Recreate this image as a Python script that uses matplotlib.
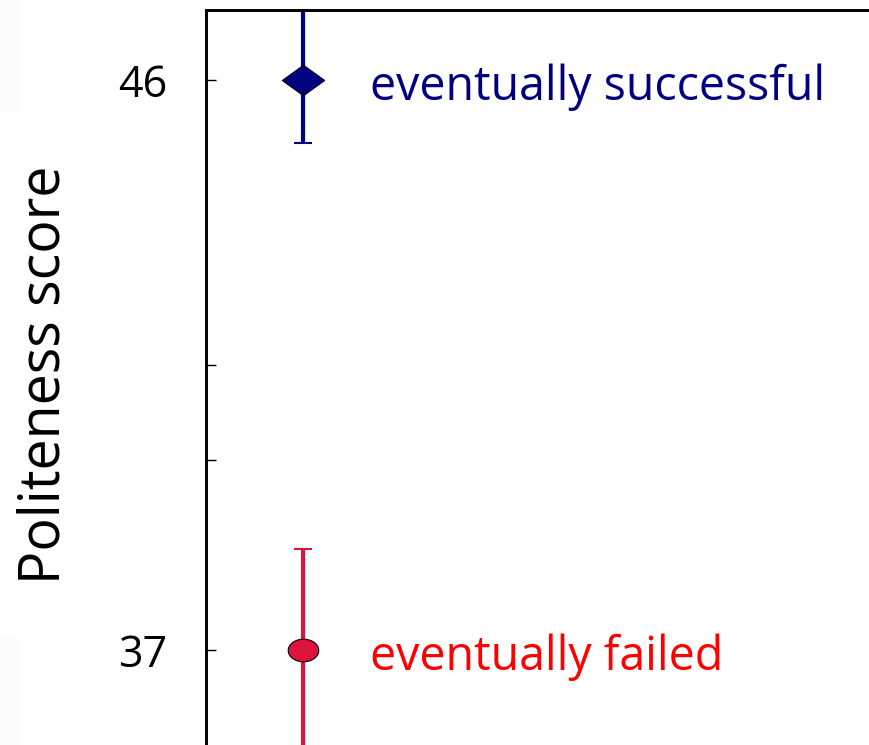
import numpy as np
import matplotlib
matplotlib.use("Agg")
import matplotlib.pyplot as plt
from matplotlib.path import Path
from matplotlib.patches import Rectangle

plt.rcParams['font.family'] = ['Open Sans', 'DejaVu Sans']

# --- data ---
groups = ["eventually successful", "eventually failed"]
x_pos = [1, 1]
means = [46, 37]
err_low = [1.0, 1.8]    # lower end runs off the bottom for the red one
err_high = [1.6, 1.6]   # blue upper end runs off the top
colors = ["#000080", "#DC143C"]
label_colors = ["#000080", "#FF0000"]
ytick_vals = [37, 40, 41.5, 46]
ytick_labels = ["37", "", "", "46"]

# custom marker shapes (wide diamond, flat ellipse)
diamond = Path([[-1, 0], [0, 0.72], [1, 0], [0, -0.72], [-1, 0]],
               [Path.MOVETO, Path.LINETO, Path.LINETO, Path.LINETO, Path.CLOSEPOLY])
t = np.linspace(0, 2 * np.pi, 60)
ellipse = Path(np.column_stack([np.cos(t), 0.74 * np.sin(t)]))
markers = [diamond, ellipse]
msizes = [30.5, 22]

fig = plt.figure(figsize=(8.69, 7.45), dpi=100)

# faint grey strips on the far left of the original image
fig.patches.append(Rectangle((0, 1 - 112 / 745), 19 / 869, 112 / 745,
                             transform=fig.transFigure, color="#fbfbfb", zorder=0))
fig.patches.append(Rectangle((0, 0), 19 / 869, 108 / 745,
                             transform=fig.transFigure, color="#fbfbfb", zorder=0))

ax = fig.add_axes([206 / 869, -5 / 745, 1.02 - 206 / 869, 740 / 745])

for i in range(len(groups)):
    ax.errorbar(x_pos[i], means[i], yerr=[[err_low[i]], [err_high[i]]],
                fmt="none", ecolor=colors[i], elinewidth=3, capsize=6.5,
                capthick=1.5, zorder=2)
    ax.plot(x_pos[i], means[i], marker=markers[i], markersize=msizes[i],
            markerfacecolor=colors[i], markeredgecolor="black",
            markeredgewidth=0.8, linestyle="none", zorder=3)
    ax.annotate(groups[i], (x_pos[i] + 0.7, means[i]), xytext=(-1, -14.5),
                textcoords="offset points", color=label_colors[i],
                fontsize=33.5, va="baseline", ha="left")

ax.set_xlim(0, 7)
ax.set_ylim(35.42, 47.105)
ax.set_xticks([1])
ax.set_xticklabels([])
ax.set_yticks(ytick_vals)
ax.set_yticklabels(ytick_labels)
ax.tick_params(axis="both", direction="in", length=7, width=1,
               top=True, labelsize=31, pad=28)
for s in ax.spines.values():
    s.set_linewidth(2.1)

ax.set_ylabel("Politeness score", fontsize=40)
ax.yaxis.set_label_coords(-0.195, 0.507)

fig.savefig("out.png", dpi=100)
